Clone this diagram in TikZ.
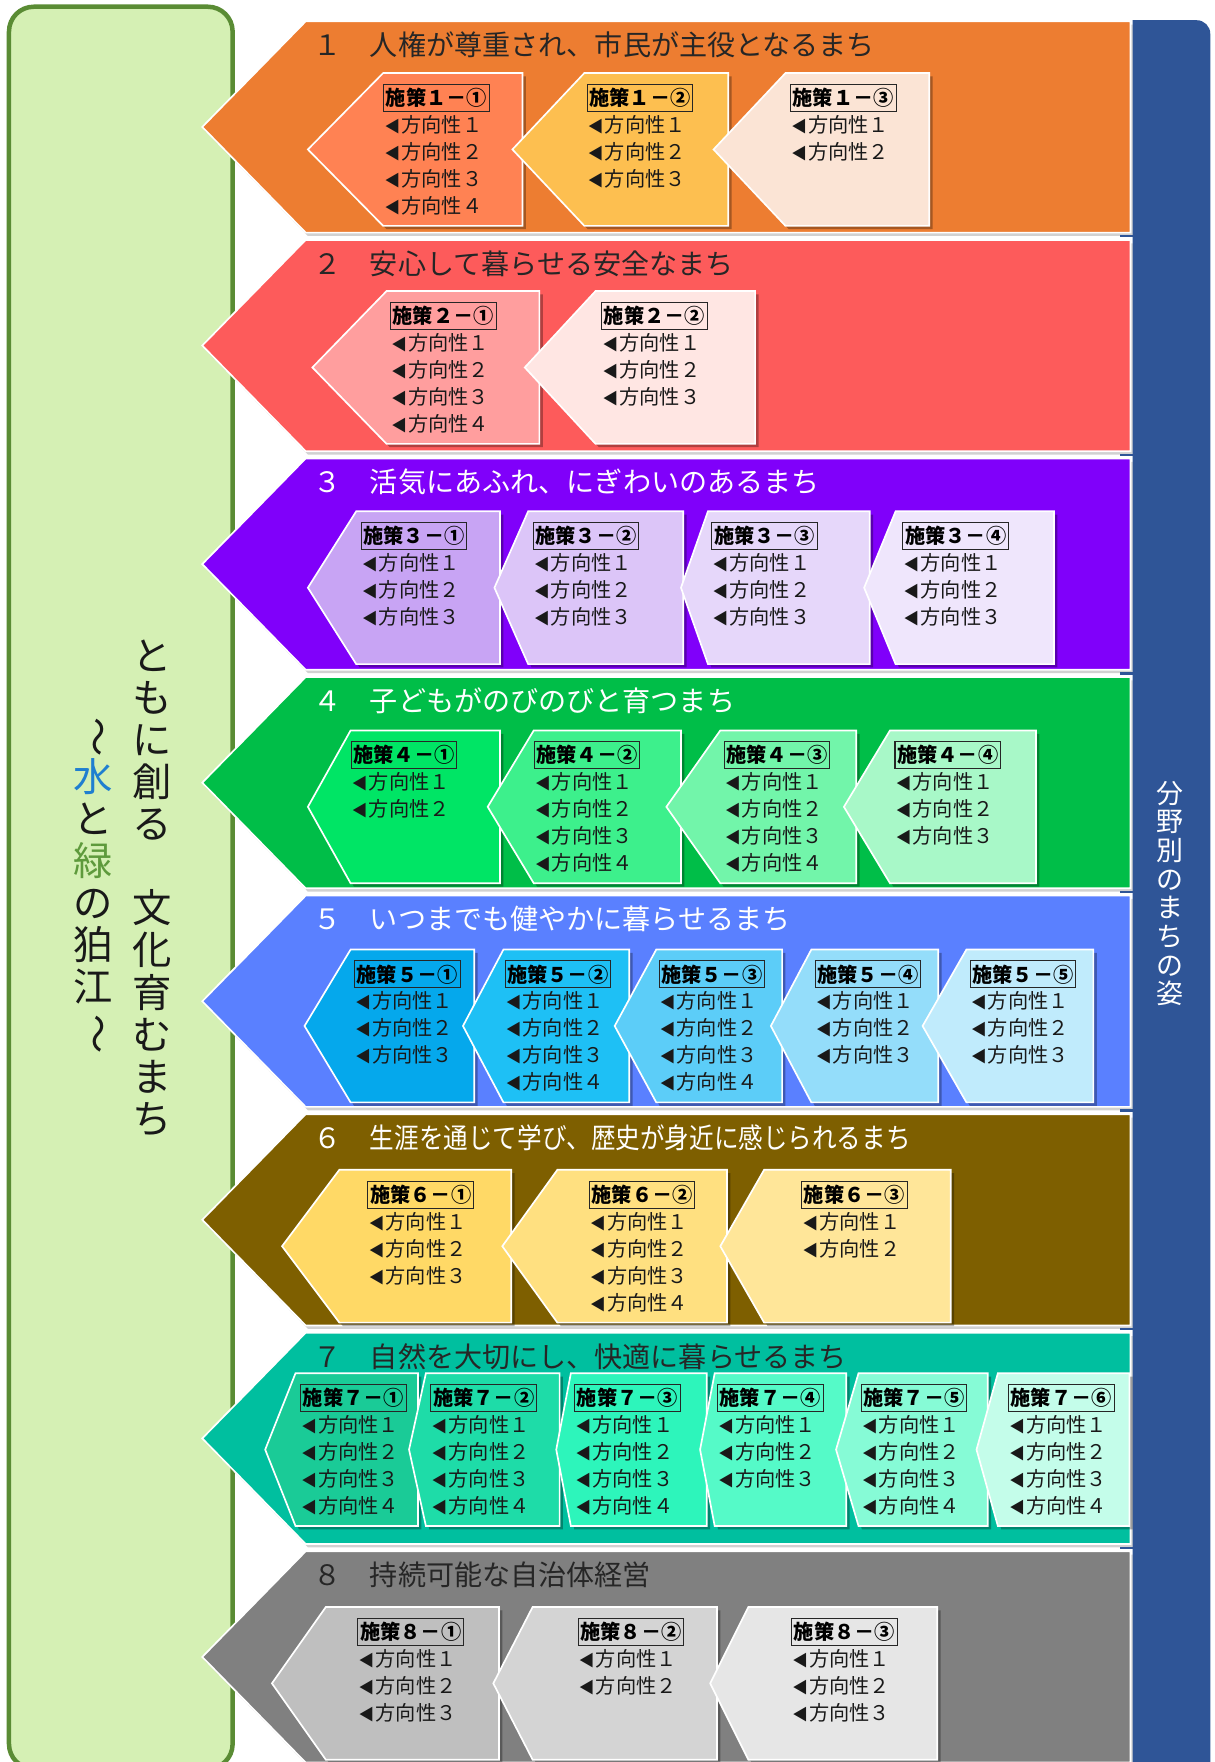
\documentclass[tikz,border=0pt]{standalone}
\usepackage{fontspec}
\setmainfont{Noto Sans CJK JP}
\usepackage{graphicx}

\definecolor{leafbg}{HTML}{D5F0B4}
\definecolor{leafline}{HTML}{5A8C34}
\definecolor{barblue}{HTML}{2F5597}
\definecolor{water}{HTML}{1F7FD0}
\definecolor{greenword}{HTML}{5E9A3C}
\definecolor{darktxt}{HTML}{262626}
% band colours
\definecolor{b1}{HTML}{ED7D31}
\definecolor{b2}{HTML}{FD5B5B}
\definecolor{b3}{HTML}{8000FA}
\definecolor{b4}{HTML}{00BE48}
\definecolor{b5}{HTML}{5A80FF}
\definecolor{b6}{HTML}{7E5F00}
\definecolor{b7}{HTML}{00BF9F}
\definecolor{b8}{HTML}{808080}
% box colours
\definecolor{c11}{HTML}{FF8253}
\definecolor{c12}{HTML}{FDBF50}
\definecolor{c13}{HTML}{FBE4D5}
\definecolor{c21}{HTML}{FF9E9E}
\definecolor{c22}{HTML}{FFE6E3}
\definecolor{c31}{HTML}{C8A4F4}
\definecolor{c32}{HTML}{DCC5F8}
\definecolor{c33}{HTML}{E6D7FA}
\definecolor{c34}{HTML}{EFE6FC}
\definecolor{c41}{HTML}{00E565}
\definecolor{c42}{HTML}{3DF08C}
\definecolor{c43}{HTML}{72F5AA}
\definecolor{c44}{HTML}{A8F8C8}
\definecolor{c51}{HTML}{05A8EC}
\definecolor{c52}{HTML}{1EC0F5}
\definecolor{c53}{HTML}{5CCDF8}
\definecolor{c54}{HTML}{94DDFA}
\definecolor{c55}{HTML}{C0EBFC}
\definecolor{c61}{HTML}{FFD966}
\definecolor{c62}{HTML}{FFE080}
\definecolor{c63}{HTML}{FFE699}
\definecolor{c71}{HTML}{1ACB97}
\definecolor{c72}{HTML}{1EDCA8}
\definecolor{c73}{HTML}{2DF5BB}
\definecolor{c74}{HTML}{55FAC8}
\definecolor{c75}{HTML}{86FBD6}
\definecolor{c76}{HTML}{C4FDEA}
\definecolor{c81}{HTML}{BFBFBF}
\definecolor{c82}{HTML}{D4D4D4}
\definecolor{c83}{HTML}{E6E6E6}

\newcommand{\fwd}[1]{\ifcase#1\or １\or ２\or ３\or ４\fi}
\newcommand{\tri}{{\fontsize{14}{14}\selectfont ◀}\kern1pt}

% #1 name, #2 tip x, #3 corner x, #4 right x, #5 top y, #6 fill, #7 text x, #8 label, #9 number of lines
\newcommand{\polbox}[9]{%
  \fill[boxshadow] ({#2+3},{#5+71}) -- ({#3+3},{#5+3}) -- ({#4+3},{#5+3}) -- ({#4+3},{#5+139}) -- ({#3+3},{#5+139}) -- cycle;
  \filldraw[fill=#6, draw=white, line width=1.5pt] (#2,{#5+68}) -- (#3,#5) -- (#4,#5) -- (#4,{#5+136}) -- (#3,{#5+136}) -- cycle;
  \node[hdrbox] (#1h) at (#7,{#5+22}) {#8};
  \foreach \i in {1,...,#9} {\node[polline] (#1l\i) at ({#7+1},{#5+46+(\i-1)*24}) {\tri 方向性\fwd{\i}};}
}

% #1 name, #2 top y, #3 fill, #4 title colour, #5 title
\newcommand{\mkband}[5]{%
  \fill[bandshadow] (274,{#2+3}) -- (1008,{#2+3}) -- (1008,{#2+191}) -- (274,{#2+191}) -- (182,{#2+97}) -- cycle;
  \filldraw[fill=#3, draw=white, line width=1.5pt] (272,#2) -- (1006,#2) -- (1006,{#2+188}) -- (272,{#2+188}) -- (180,{#2+94}) -- cycle;
  \node[btitle, text=#4] (#1) at (279,{#2+21}) {#5};
  \draw[barblue, line width=2pt] (997,{#2+191.3}) -- (1010,{#2+191.3});
}

\begin{document}
\begin{tikzpicture}[x=1pt, y=-1pt,
  btitle/.style={font=\fontsize{25}{25}\selectfont, inner sep=0pt, anchor=west},
  hdrbox/.style={draw=black!85, line width=0.9pt, font=\bfseries\fontsize{18}{18}\selectfont, inner xsep=2pt, inner ysep=0pt, minimum height=24pt, anchor=west, text=black},
  polline/.style={font=\fontsize{18}{18}\selectfont, inner sep=0pt, anchor=west, text=black!90},
  boxshadow/.style={fill=black, opacity=0.3},
  bandshadow/.style={fill=black, opacity=0.18},
  vtext/.style={align=center, inner sep=0pt, text=black!90}
]
\useasboundingbox (0,0) rectangle (1081,1568);
\clip (0,0) rectangle (1081,1568);
\fill[white] (0,0) rectangle (1081,1568);

% left theme panel
\filldraw[fill=leafbg, draw=leafline, line width=4pt, rounded corners=22pt] (8,6) rectangle (207,1574);

% right bar
\fill[barblue] (1008,1580) -- (1008,18) [rounded corners=12pt] -- (1077,18) [rounded corners=0pt] -- (1077,1580) -- cycle;

% bands
\mkband{t1}{19}{b1}{darktxt}{１　人権が尊重され、市民が主役となるまち}
\polbox{p11}{274}{341}{465}{65}{c11}{341}{施策１－①}{4}
\polbox{p12}{456}{520}{648}{65}{c12}{522}{施策１－②}{3}
\polbox{p13}{635}{699}{827}{65}{c13}{703}{施策１－③}{2}

\mkband{t2}{213.5}{b2}{darktxt}{２　安心して暮らせる安全なまち}
\polbox{p21}{278}{344}{480}{259}{c21}{347}{施策２－①}{4}
\polbox{p22}{467}{530}{672}{259}{c22}{535}{施策２－②}{3}

\mkband{t3}{408}{b3}{white}{３　活気にあふれ、にぎわいのあるまち}
\polbox{p31}{274}{317}{445}{455}{c31}{321}{施策３－①}{3}
\polbox{p32}{440}{470}{608}{455}{c32}{474}{施策３－②}{3}
\polbox{p33}{606}{630}{774}{455}{c33}{633}{施策３－③}{3}
\polbox{p34}{769}{797}{938}{455}{c34}{803}{施策３－④}{3}

\mkband{t4}{602.5}{b4}{white}{４　子どもがのびのびと育つまち}
\polbox{p41}{274}{312}{445}{650}{c41}{312}{施策４－①}{2}
\polbox{p42}{434}{475}{606}{650}{c42}{475}{施策４－②}{4}
\polbox{p43}{593}{641}{762}{650}{c43}{644}{施策４－③}{4}
\polbox{p44}{751}{792}{922}{650}{c44}{796}{施策４－④}{3}

\mkband{t5}{797}{b5}{white}{５　いつまでも健やかに暮らせるまち}
\polbox{p51}{271}{312}{422}{845}{c51}{315}{施策５－①}{3}
\polbox{p52}{412}{448}{560}{845}{c52}{449}{施策５－②}{4}
\polbox{p53}{547}{584}{696}{845}{c53}{586}{施策５－③}{4}
\polbox{p54}{686}{722}{835}{845}{c54}{725}{施策５－④}{3}
\polbox{p55}{821}{860}{973}{845}{c55}{863}{施策５－⑤}{3}

\mkband{t6}{991.5}{b6}{white}{６　\scalebox{0.875}[1]{生涯を通じて学び、歴史が身近に感じられるまち}}
\polbox{p61}{251}{302}{455}{1041}{c61}{327}{施策６－①}{3}
\polbox{p62}{447}{496}{647}{1041}{c62}{524}{施策６－②}{4}
\polbox{p63}{641}{680}{846}{1041}{c63}{713}{施策６－③}{2}

\mkband{t7}{1186}{b7}{darktxt}{７　自然を大切にし、快適に暮らせるまち}
\polbox{p71}{236}{263}{372}{1222}{c71}{267}{施策７－①}{4}
\polbox{p72}{364}{379}{498}{1222}{c72}{383}{施策７－②}{4}
\polbox{p73}{495}{508}{629}{1222}{c73}{511}{施策７－③}{4}
\polbox{p74}{623}{636}{753}{1222}{c74}{638}{施策７－④}{3}
\polbox{p75}{744}{764}{879}{1222}{c75}{766}{施策７－⑤}{4}
\polbox{p76}{869}{888}{1005}{1222}{c76}{897}{施策７－⑥}{4}

\mkband{t8}{1380.5}{b8}{darktxt}{８　持続可能な自治体経営}
\polbox{p81}{242}{290}{444}{1430}{c81}{318}{施策８－①}{3}
\polbox{p82}{439}{474}{638}{1430}{c82}{514}{施策８－②}{2}
\polbox{p83}{632}{666}{834}{1430}{c83}{704}{施策８－③}{3}

% vertical texts
\node[vtext, font=\fontsize{35}{37.5}\selectfont] (theme1) at (135,790)
  {と\\も\\に\\創\\る\\　\\文\\化\\育\\む\\ま\\ち};
\node[vtext, font=\fontsize{35}{37.5}\selectfont] (theme2) at (83,788)
  {\rotatebox[origin=c]{-90}{～}\\{\color{water}水}\\と\\{\color{greenword}緑}\\の\\狛\\江\\\rotatebox[origin=c]{-90}{～}};
\node[vtext, text=white, font=\fontsize{24}{25.5}\selectfont] (sidelabel) at (1041,795)
  {分\\野\\別\\の\\ま\\ち\\の\\姿};
\end{tikzpicture}
\end{document}
